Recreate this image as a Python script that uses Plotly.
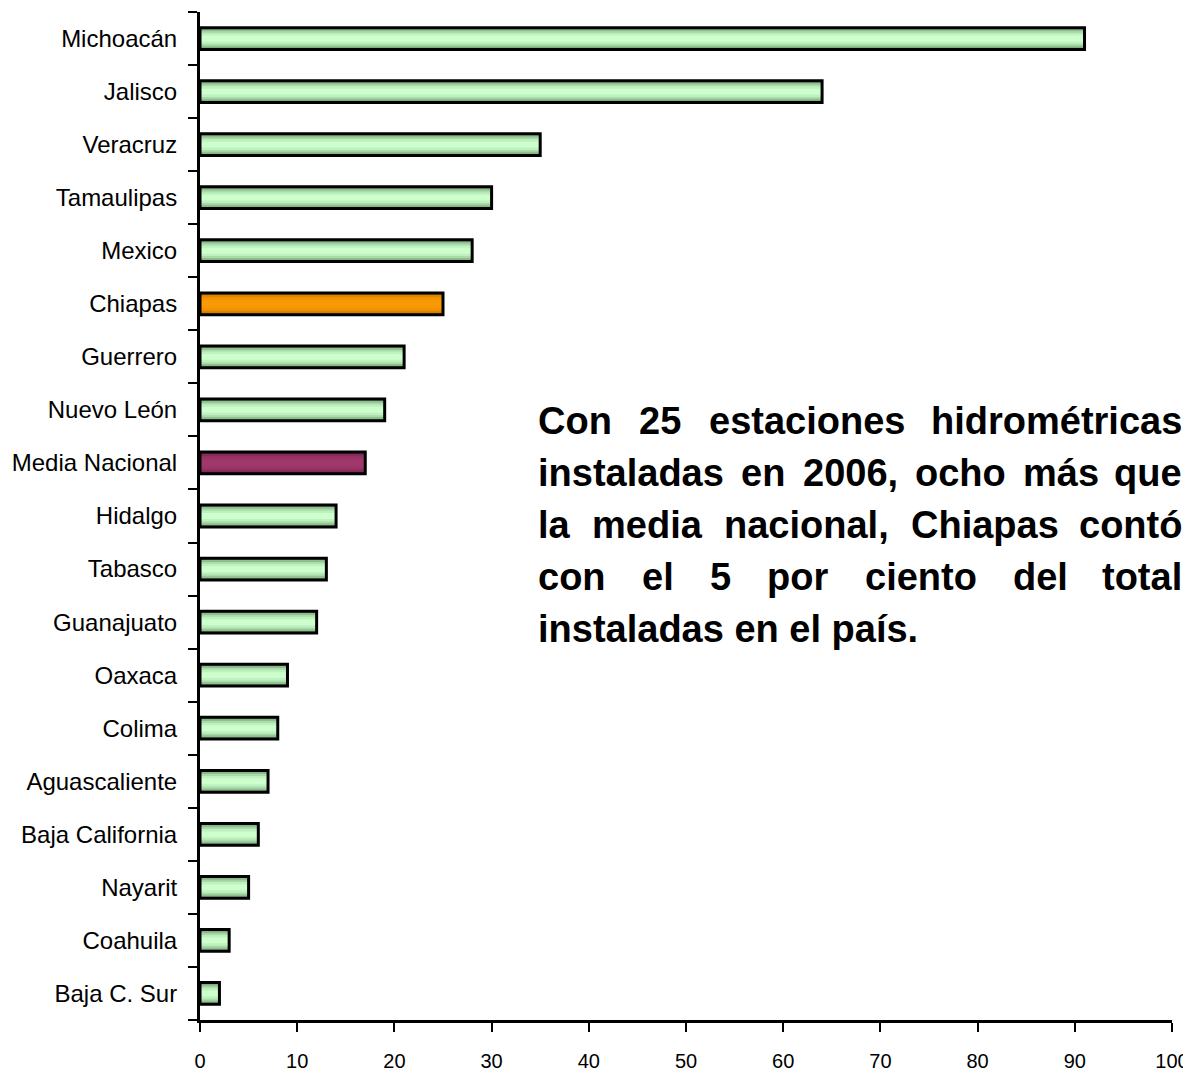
import plotly.graph_objects as go

categories = ["Michoacán", "Jalisco", "Veracruz", "Tamaulipas", "Mexico", "Chiapas",
              "Guerrero", "Nuevo León", "Media Nacional", "Hidalgo", "Tabasco",
              "Guanajuato", "Oaxaca", "Colima", "Aguascaliente", "Baja California",
              "Nayarit", "Coahuila", "Baja C. Sur"]
values = [91, 64, 35, 30, 28, 25, 21, 19, 17, 14, 13, 12, 9, 8, 7, 6, 5, 3, 2]
x_ticks = [0, 10, 20, 30, 40, 50, 60, 70, 80, 90, 100]
note_lines = ["Con 25 estaciones hidrométricas",
              "instaladas en 2006, ocho más que",
              "la media nacional, Chiapas contó",
              "con el 5 por ciento del total",
              "instaladas en el país."]
justified = [True, True, True, True, False]

# gradient layers (outer -> inner) for each colour family
green = ["#6f9c6f", "#8fbf8f", "#aadcaa", "#bff0bf", "#ccffcc"]
orange = ["#b86e00", "#d98300", "#ee9000", "#f59600", "#f79a05"]
purple = ["#6e2248", "#852b58", "#953263", "#9c3568", "#a0386b"]
widths = [0.41, 0.34, 0.27, 0.20, 0.11]

def family(c):
    if c == "Chiapas":
        return orange
    if c == "Media Nacional":
        return purple
    return green

# figure geometry (page body has an 8px margin)
W, H = 1191, 1066
ML, MR, MT, MB = 192, 27, 4, 54
PW = W - ML - MR
PH = H - MT - MB

fig = go.Figure()
for i, w in enumerate(widths):
    fig.add_trace(go.Bar(
        y=categories, x=values, orientation="h", width=w,
        marker=dict(color=[family(c)[i] for c in categories], line=dict(width=0)),
        hoverinfo="skip", showlegend=False))
fig.add_trace(go.Bar(
    y=categories, x=values, orientation="h", width=widths[0],
    marker=dict(color="rgba(0,0,0,0)", line=dict(color="black", width=3)),
    showlegend=False))

fig.update_layout(
    width=W, height=H,
    margin=dict(l=ML, r=MR, t=MT, b=MB, autoexpand=False),
    barmode="overlay",
    plot_bgcolor="white", paper_bgcolor="white",
    font=dict(family="Liberation Sans, Arial", size=21, color="black"),
    xaxis=dict(range=[0, 100], tickvals=x_ticks, showgrid=False, zeroline=False,
               showline=True, linecolor="black", linewidth=3, automargin=False,
               ticks="outside", ticklen=9, tickwidth=2, tickcolor="black",
               ticklabelstandoff=12, ticklabeloverflow="allow", tickfont=dict(size=20)),
    yaxis=dict(categoryorder="array", categoryarray=categories[::-1],
               range=[-0.5, len(categories) - 0.5], automargin=False,
               showgrid=False, zeroline=False, showline=True, linecolor="black", linewidth=3,
               ticks="outside", ticklen=9, tickwidth=2, tickcolor="black",
               tickson="boundaries", ticklabelstandoff=15, tickfont=dict(size=24)),
)

# Arial Bold advance widths (per 1000 em) for text justification
AW = {' ': 278, ',': 278, '.': 278, 'C': 722,
      'a': 556, 'b': 611, 'c': 556, 'd': 611, 'e': 556, 'f': 333, 'g': 611, 'h': 611,
      'i': 278, 'j': 278, 'k': 556, 'l': 278, 'm': 889, 'n': 611, 'o': 611, 'p': 611,
      'q': 611, 'r': 389, 's': 556, 't': 333, 'u': 611, 'v': 556, 'w': 778, 'x': 556,
      'y': 556, 'z': 500, 'á': 556, 'é': 556, 'í': 278, 'ó': 611}
FS = 38
def tw(s):
    return sum(AW.get(ch, 556) for ch in s) * FS / 1000.0

TX0, TX1 = 537 - 8, 1183 - 8   # text block left/right in figure px
TY0, LH = 421 - 8, 52          # first line centre and line height (figure px)
note_font = dict(family="Liberation Sans, Arial", size=FS, color="black")

def px2paper_x(px):
    return (px - ML) / PW

def px2paper_y(py):
    return 1 - (py - MT) / PH

for k, (line, just) in enumerate(zip(note_lines, justified)):
    yc = TY0 + k * LH
    words = line.split(" ")
    if just and len(words) > 1:
        total = sum(tw(w) for w in words)
        gap = (TX1 - TX0 - total) / (len(words) - 1)
        x = TX0
        for j, w in enumerate(words):
            last = j == len(words) - 1
            fig.add_annotation(xref="paper", yref="paper",
                               x=px2paper_x(TX1 if last else x), y=px2paper_y(yc),
                               xanchor="right" if last else "left", yanchor="middle",
                               showarrow=False, text="<b>" + w + "</b>",
                               font=note_font, borderpad=0)
            x += tw(w) + gap
    else:
        fig.add_annotation(xref="paper", yref="paper", x=px2paper_x(TX0), y=px2paper_y(yc),
                           xanchor="left", yanchor="middle", showarrow=False,
                           text="<b>" + line + "</b>", font=note_font, borderpad=0)

fig.write_html("out.html")
